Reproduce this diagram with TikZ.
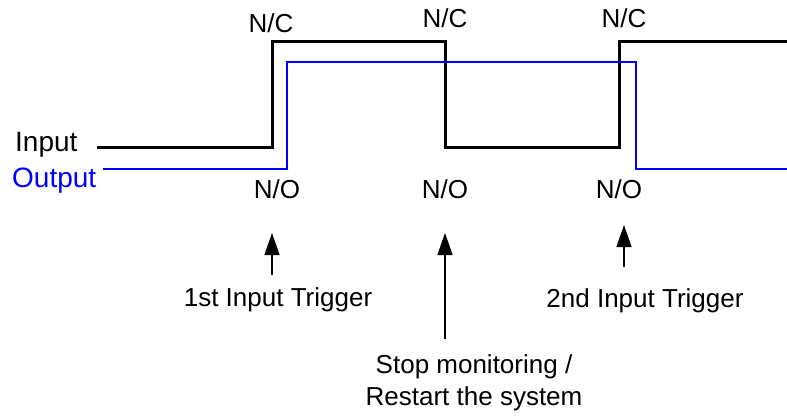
\documentclass[tikz,border=0pt]{standalone}
\usepackage{fontspec}
\setmainfont{Liberation Sans}
\usepackage{tikz}
\usetikzlibrary{arrows.meta, positioning, calc}
\definecolor{outblue}{rgb}{0,0,1}

\begin{document}
\begin{tikzpicture}[
  x=1pt, y=-1pt,
  >={Triangle[length=22pt, width=15pt]},
  sig/.style={line width=3pt, line join=miter},
  insig/.style={sig, black},
  outsig/.style={sig, outblue, line width=2.7pt},
  lbl/.style={font=\fontsize{26}{32}\selectfont, inner sep=0pt, anchor=base},
  sidelbl/.style={font=\fontsize{28}{32}\selectfont, inner sep=0pt, anchor=base west},
  trig/.style={->, line width=1.4pt}
]
\useasboundingbox (0,0) rectangle (787,416);

\def\yInHi{41}
\def\yInLo{147}
\def\yOutHi{62}
\def\yOutLo{169}

% waveforms
\draw[insig] (97,\yInLo) -- (272,\yInLo) -- (272,\yInHi) -- (445,\yInHi) -- (445,\yInLo)
  -- (619,\yInLo) -- (619,\yInHi) -- (790,\yInHi);
\draw[outsig] (103,\yOutLo) -- (287,\yOutLo) -- (287,\yOutHi) -- (636,\yOutHi) -- (636,\yOutLo)
  -- (790,\yOutLo);

\node[sidelbl] (l-in)  at (15,151) {Input};
\node[sidelbl, text=outblue] (l-out) at (12,187) {Output};

\node[lbl] (nc-1) at (271,32) {N/C};
\node[lbl] (nc-2) at (445,27) {N/C};
\node[lbl] (nc-3) at (624,27) {N/C};

\node[lbl] (no-1) at (277,198) {N/O};
\node[lbl] (no-2) at (445,198) {N/O};
\node[lbl] (no-3) at (619,198) {N/O};

\node[lbl] (t-first)  at (278,306) {1st Input Trigger};
\node[lbl] (t-second) at (645,307) {2nd Input Trigger};
\node[lbl] (t-stop)   at (474,373) {Stop monitoring /};
\node[lbl] (t-restart) at (474,405) {Restart the system};

\coordinate (tip-1) at (272,233);
\coordinate (tip-2) at (445,233);
\coordinate (tip-3) at (624,225);

\draw[trig] (tip-1 |- t-first.north) ++(0,-12) -- (tip-1);
\draw[trig] (tip-2 |- t-stop.north) ++(0,-15) -- (tip-2);
\draw[trig] (tip-3 |- t-second.north) ++(0,-21) -- (tip-3);

\end{tikzpicture}
\end{document}
